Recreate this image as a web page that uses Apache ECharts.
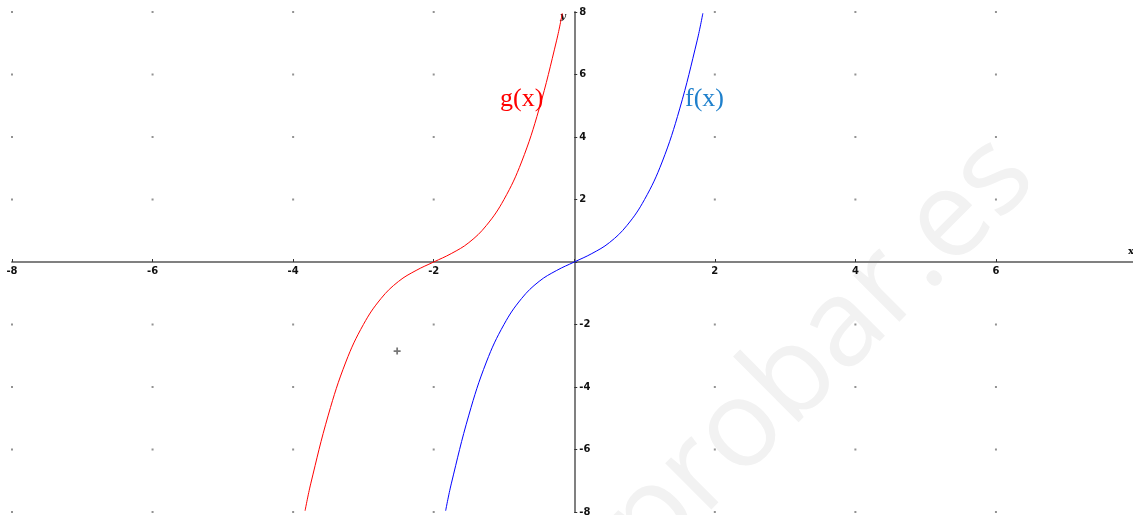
<!DOCTYPE html>
<html>
<head>
<meta charset="utf-8">
<script src="https://cdn.jsdelivr.net/npm/echarts@6/dist/echarts.min.js"></script>
<style>
html, body { margin: 0; padding: 0; background: #fff; }
#main { width: 1133px; height: 515px; }
</style>
</head>
<body>
<div id="main"></div>
<script>
// valores
var fX = [-1.83, -1.75, -1.5, -1.25, -1, -0.75, -0.5, -0.25, 0, 0.25, 0.5, 0.75, 1, 1.25, 1.5, 1.75, 1.83];
var fY = [-7.96, -7.1, -4.9, -3.2, -2, -1.17, -0.62, -0.27, 0, 0.27, 0.62, 1.17, 2, 3.2, 4.9, 7.1, 7.96];
var gX = [-3.83, -3.75, -3.5, -3.25, -3, -2.75, -2.5, -2.25, -2, -1.75, -1.5, -1.25, -1, -0.75, -0.5, -0.25, -0.17];
var gY = [-7.96, -7.1, -4.9, -3.2, -2, -1.17, -0.62, -0.27, 0, 0.27, 0.62, 1.17, 2, 3.2, 4.9, 7.1, 7.96];
var xTicks = [-8, -6, -4, -2, 0, 2, 4, 6];
var yTicks = [-8, -6, -4, -2, 0, 2, 4, 6, 8];
var cursorPt = [[-2.52, -2.85]];

function pairs(xs, ys) {
    return xs.map(function (x, i) { return [x, ys[i]]; });
}

// puntos de la cuadricula
var gridDots = [];
xTicks.forEach(function (x) {
    yTicks.forEach(function (y) {
        if (x !== 0 && y !== 0) gridDots.push([x, y]);
    });
});

var W = 1133, H = 515;
var gLeft = 12, gRight = 0, gTop = 12, gBottom = 3;
var xMin = -8, xMax = 7.95, yMin = -8, yMax = 8;
// desplazar los ejes hasta el origen
var yOffset = -((0 - xMin) / (xMax - xMin) * (W - gLeft - gRight));
var xOffset = -((0 - yMin) / (yMax - yMin) * (H - gTop - gBottom));

var labelStyle = {
    fontFamily: 'DejaVu Sans',
    fontWeight: 'bold',
    fontSize: 10,
    color: '#111'
};

var chart = echarts.init(document.getElementById('main'));
var option = {
    animation: false,
    backgroundColor: '#fff',
    grid: {
        left: gLeft,
        right: gRight,
        top: gTop,
        bottom: gBottom,
        outerBoundsMode: 'none'
    },
    xAxis: {
        type: 'value',
        min: xMin,
        max: xMax,
        position: 'bottom',
        offset: xOffset,
        axisLine: {onZero: false, lineStyle: {color: '#808080', width: 2}},
        axisTick: {inside: true, length: 3, customValues: xTicks, lineStyle: {color: '#333'}},
        axisLabel: Object.assign({
            customValues: xTicks,
            margin: 4,
            formatter: function (v) { return v === 0 ? '' : String(v); }
        }, labelStyle),
        splitLine: {show: false}
    },
    yAxis: {
        type: 'value',
        min: yMin,
        max: yMax,
        position: 'left',
        offset: yOffset,
        axisLine: {onZero: false, lineStyle: {color: '#808080', width: 2}},
        axisTick: {inside: true, length: 3, customValues: yTicks, lineStyle: {color: '#333'}},
        axisLabel: Object.assign({
            customValues: yTicks,
            inside: true,
            margin: 5,
            formatter: function (v) { return v === 0 ? '' : String(v); }
        }, labelStyle),
        splitLine: {show: false}
    },
    graphic: [
        {
            type: 'text',
            z: -10,
            x: 1058,
            y: 200,
            rotation: Math.PI / 4,
            style: {
                text: 'yoquieroaprobar.es',
                font: '122px "Open Sans"',
                fill: '#f2f2f2',
                textAlign: 'right',
                textVerticalAlign: 'bottom'
            }
        },
        {
            type: 'text', x: 500, y: 86,
            style: {text: 'g(x)', font: '26px "Liberation Serif"', fill: '#ff0000'}
        },
        {
            type: 'text', x: 685, y: 86,
            style: {text: 'f(x)', font: '26px "Liberation Serif"', fill: '#1f80cc'}
        },
        {
            type: 'text', x: 560, y: 11,
            style: {text: 'y', font: 'italic bold 10px "DejaVu Serif"', fill: '#111'}
        },
        {
            type: 'text', x: 1128, y: 246,
            style: {text: 'x', font: 'bold 10px "DejaVu Serif"', fill: '#111'}
        }
    ],
    series: [
        {
            type: 'scatter',
            data: gridDots,
            symbolSize: 2,
            symbol: 'rect',
            itemStyle: {color: '#777'},
            silent: true
        },
        {
            name: 'g(x)',
            type: 'line',
            data: pairs(gX, gY),
            smooth: 0.4,
            showSymbol: false,
            lineStyle: {color: '#ff0000', width: 1}
        },
        {
            name: 'f(x)',
            type: 'line',
            data: pairs(fX, fY),
            smooth: 0.4,
            showSymbol: false,
            lineStyle: {color: '#0000ff', width: 1}
        },
        {
            type: 'scatter',
            data: cursorPt,
            symbol: 'path://M3,0H5V3H8V5H5V8H3V5H0V3H3Z',
            symbolSize: 7,
            itemStyle: {color: '#555'},
            silent: true
        }
    ]
};
chart.setOption(option);
</script>
</body>
</html>
